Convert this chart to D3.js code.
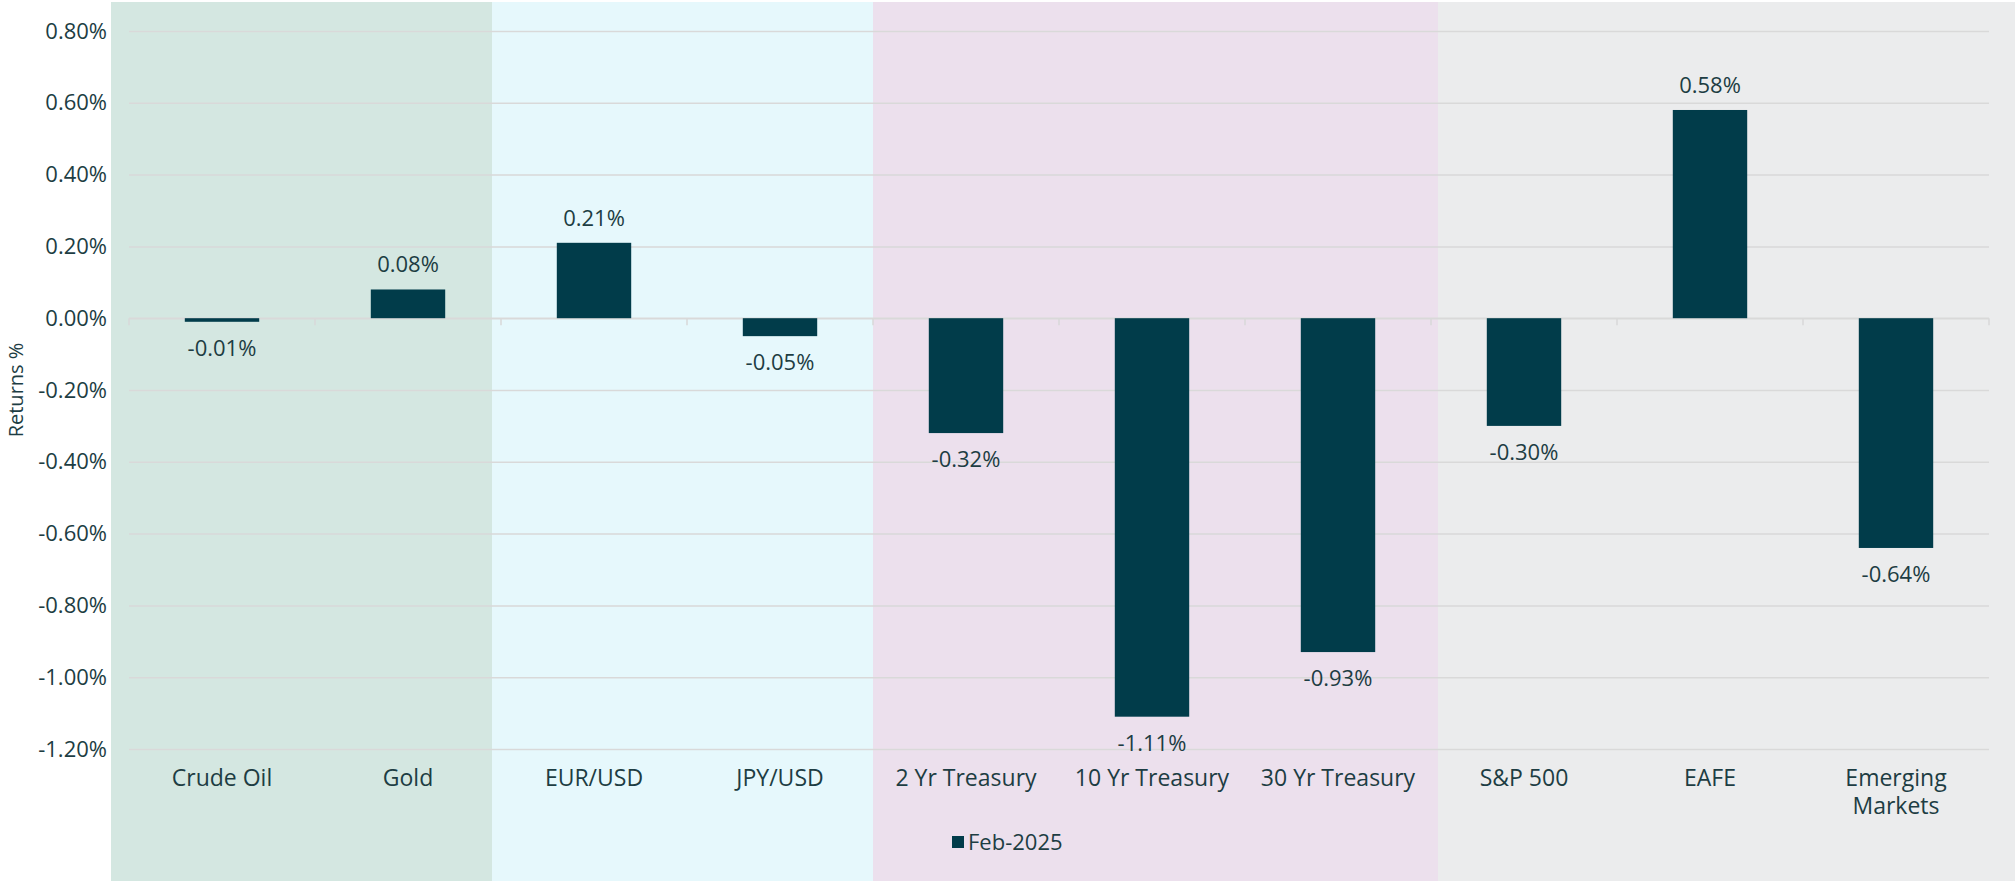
<!DOCTYPE html>
<html>
<head>
<meta charset="utf-8">
<script src="https://cdn.jsdelivr.net/npm/d3@7"></script>
<style>
    body { margin: 0; background: #ffffff; }
    svg text { font-family: "Open Sans", "Liberation Sans", sans-serif; fill: #1d3d43; }
</style>
</head>
<body>
<svg id="svg"></svg>
<script>
//categories on the x axis
const CATEGORIES = ["Crude Oil", "Gold", "EUR/USD", "JPY/USD", "2 Yr Treasury",
    "10 Yr Treasury", "30 Yr Treasury", "S&P 500", "EAFE", "Emerging Markets"];
//monthly returns in percent
const RETURNS = [-0.01, 0.08, 0.21, -0.05, -0.32, -1.11, -0.93, -0.30, 0.58, -0.64];
//y axis ticks
const Y_TICKS = [-1.2, -1.0, -0.8, -0.6, -0.4, -0.2, 0, 0.2, 0.4, 0.6, 0.8];
const SERIES_NAME = "Feb-2025";
const Y_TITLE = "Returns %";

//layout
const WIDTH = 2015;
const HEIGHT = 881;
const PLOT = {left: 129, right: 1989, top: 31, bottom: 749};
//shaded group backgrounds (left edges, last is right edge)
const BG_EDGES = [111, 492, 873, 1438, 2015];
const BG_COLORS = ["#d4e7e1", "#e6f8fc", "#ece0ed", "#ebeced"];
const BAR_COLOR = "#013c4a";
const GRID_COLOR = "#d9d9d9";

function init() {
    var data = CATEGORIES.map((c, i) => {
        return {cat: c, value: RETURNS[i]};
    });

    var svg = d3.select("#svg")
            .attr("width", WIDTH)
            .attr("height", HEIGHT)
            .style("display", "block");

    //background bands
    svg.selectAll("rect.bg")
            .data(BG_COLORS)
            .enter()
            .append("rect")
            .attr("class", "bg")
            .attr("x", (d, i) => BG_EDGES[i])
            .attr("y", 2)
            .attr("width", (d, i) => BG_EDGES[i + 1] - BG_EDGES[i])
            .attr("height", HEIGHT - 2)
            .attr("fill", (d) => d);

    var scaleX = d3.scaleBand()
            .domain(CATEGORIES)
            .range([PLOT.left, PLOT.right])
            .paddingInner(0.6)
            .paddingOuter(0.3);

    var scaleY = d3.scaleLinear()
            .domain([-1.2, 0.8])
            .range([PLOT.bottom, PLOT.top]);

    //plain hyphen for negatives, like the original
    var fmt = (d) => d3.format(".2f")(d).replace("\u2212", "-") + "%";

    //gridlines + tick labels
    var yAxis = d3.axisLeft(scaleY)
            .tickValues(Y_TICKS)
            .tickSize(-(PLOT.right - PLOT.left))
            .tickPadding(22)
            .tickFormat(fmt);

    var gy = svg.append("g")
            .attr("transform", "translate(" + PLOT.left + ",0)")
            .call(yAxis);
    gy.select(".domain").remove();
    gy.selectAll(".tick line")
            .attr("stroke", GRID_COLOR)
            .attr("stroke-width", 1.5);
    gy.selectAll(".tick text")
            .style("font-size", "22px")
            .attr("fill", "#1d3d43");

    //zero line with category tick marks
    var y0 = scaleY(0);
    svg.append("line")
            .attr("x1", PLOT.left)
            .attr("x2", PLOT.right)
            .attr("y1", y0)
            .attr("y2", y0)
            .attr("stroke", GRID_COLOR)
            .attr("stroke-width", 1.5);
    var bounds = d3.range(CATEGORIES.length + 1).map((i) => PLOT.left + i * scaleX.step());
    svg.selectAll("line.xtick")
            .data(bounds)
            .enter()
            .append("line")
            .attr("class", "xtick")
            .attr("x1", (d) => d)
            .attr("x2", (d) => d)
            .attr("y1", y0)
            .attr("y2", y0 + 7)
            .attr("stroke", GRID_COLOR)
            .attr("stroke-width", 1.5);

    //bars
    svg.selectAll("rect.bar")
            .data(data)
            .enter()
            .append("rect")
            .attr("class", "bar")
            .attr("x", (d) => scaleX(d.cat))
            .attr("y", (d) => scaleY(Math.max(0, d.value)))
            .attr("width", scaleX.bandwidth())
            .attr("height", (d) => Math.max(2, Math.abs(scaleY(d.value) - y0)))
            .attr("fill", BAR_COLOR);

    //value labels
    svg.selectAll("text.val")
            .data(data)
            .enter()
            .append("text")
            .attr("class", "val")
            .attr("x", (d) => scaleX(d.cat) + scaleX.bandwidth() / 2)
            .attr("y", (d) => {
                if (d.value >= 0) {
                    return scaleY(d.value) - 17;
                }
                return Math.max(scaleY(d.value), y0 + 2) + 34;
            })
            .attr("text-anchor", "middle")
            .style("font-size", "22px")
            .text((d) => fmt(d.value));

    //category labels, wrap two-word long ones
    svg.selectAll("text.cat")
            .data(CATEGORIES)
            .enter()
            .append("text")
            .attr("class", "cat")
            .attr("x", (d) => scaleX(d) + scaleX.bandwidth() / 2)
            .attr("y", 786)
            .attr("text-anchor", "middle")
            .style("font-size", "23px")
            .each(function (d) {
                var lines = d === "Emerging Markets" ? d.split(" ") : [d];
                d3.select(this).selectAll("tspan")
                        .data(lines)
                        .enter()
                        .append("tspan")
                        .attr("x", scaleX(d) + scaleX.bandwidth() / 2)
                        .attr("dy", (l, i) => i === 0 ? 0 : 28)
                        .text((l) => l);
            });

    //y axis title
    svg.append("text")
            .attr("transform", "translate(23," + ((PLOT.top + PLOT.bottom) / 2) + ") rotate(-90)")
            .attr("text-anchor", "middle")
            .style("font-size", "20px")
            .text(Y_TITLE);

    //legend
    svg.append("rect")
            .attr("x", 952)
            .attr("y", 836)
            .attr("width", 12)
            .attr("height", 12)
            .attr("fill", BAR_COLOR);
    svg.append("text")
            .attr("x", 968)
            .attr("y", 850)
            .style("font-size", "22px")
            .text(SERIES_NAME);
}

init();
</script>
</body>
</html>
